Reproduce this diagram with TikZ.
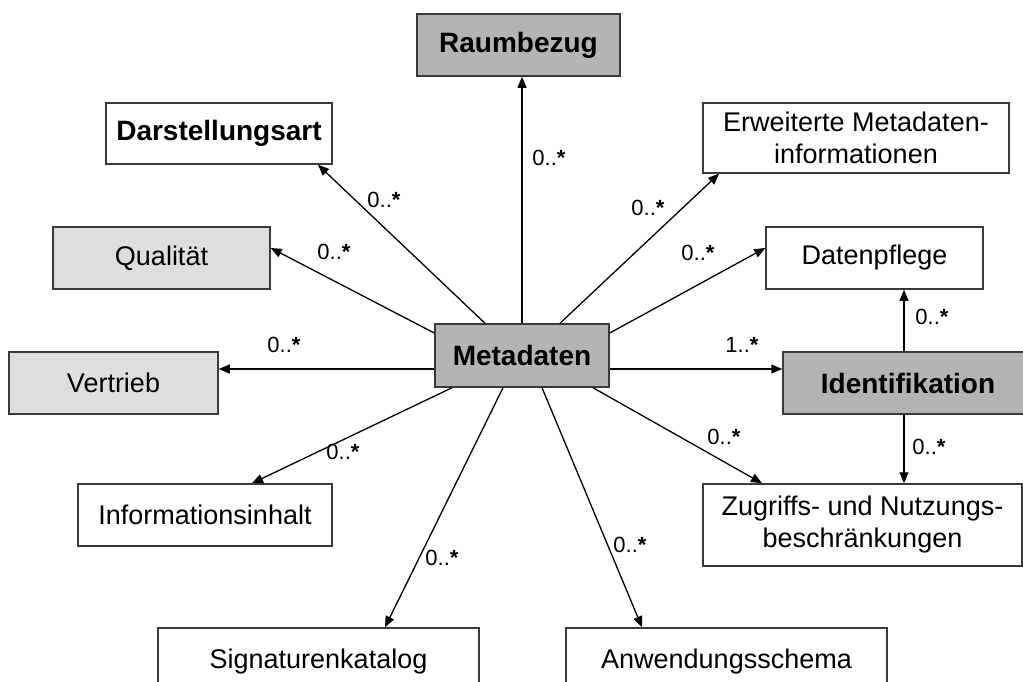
\documentclass[tikz,border=0pt]{standalone}
\usepackage{fontspec}
\setmainfont{Liberation Sans}
\usetikzlibrary{arrows.meta}
\definecolor{darkfill}{HTML}{B4B4B4}
\definecolor{lightfill}{HTML}{DEDEDE}
\definecolor{boxline}{HTML}{3A3A3A}
\begin{document}
\begin{tikzpicture}[x=1pt, y=-1pt,
  box/.style={draw=boxline, line width=1.5pt, align=center, inner sep=0pt, minimum height=62pt, font=\fontsize{27}{32}\selectfont},
  mainbox/.style={box, fill=darkfill, font=\fontsize{28}{32}\selectfont\bfseries},
  mult/.style={inner sep=0pt, font=\fontsize{22}{24}\selectfont},
  link/.style={-{Triangle[length=11pt,width=9pt]}, line width=1.3pt}]
\useasboundingbox (0,0) rectangle (1023,681);
% boxes
\node[mainbox, minimum width=203pt] (raum) at (518.5,45) {Raumbezug};
\node[box, font=\fontsize{28}{32}\selectfont\bfseries, minimum width=226pt, minimum height=61pt] (dars) at (219,133.5) {Darstellungsart};
\node[box, minimum width=306pt, minimum height=70pt] (erw) at (856,138) {Erweiterte Metadaten-\\informationen};
\node[box, fill=lightfill, minimum width=217pt] (qual) at (161.5,258) {Qualität};
\node[box, minimum width=217pt] (pflege) at (874.5,258) {Datenpflege};
\node[box, fill=lightfill, minimum width=209pt] (vert) at (113.5,383) {Vertrieb};
\node[mainbox, minimum width=174pt, minimum height=63pt] (meta) at (522,355.5) {Metadaten};
\node[mainbox, minimum width=250pt] (ident) at (908,383) {Identifikation};
\node[box, minimum width=254pt] (info) at (205,515) {Informationsinhalt};
\node[box, minimum width=319pt, minimum height=82pt] (zug) at (862.5,525) {Zugriffs- und Nutzungs-\\beschränkungen};
\node[box, minimum width=321pt, minimum height=68pt] (sig) at (318.5,662) {Signaturenkatalog};
\node[box, minimum width=321pt, minimum height=68pt] (anw) at (726.5,662) {Anwendungsschema};
% connectors
\draw[link] (meta.north) -- (meta.north |- raum.south);
\draw[link] ([xshift=-37pt]meta.north) -- ([xshift=99pt]dars.south);
\draw[link] ([xshift=38pt]meta.north) -- ([xshift=-137pt]erw.south);
\draw[link] ([yshift=22.5pt]meta.west) -- ([yshift=10pt]qual.east);
\draw[link] ([yshift=22.5pt]meta.east) -- ([yshift=10pt]pflege.west);
\draw[link] ([yshift=-13.5pt]meta.west) -- ([yshift=14pt]vert.east);
\draw[link] ([yshift=-13.5pt]meta.east) -- ([yshift=14pt]ident.west);
\draw[link] ([xshift=-70pt]meta.south) -- ([xshift=47pt]info.north);
\draw[link] ([xshift=-19pt]meta.south) -- ([xshift=66.5pt]sig.north);
\draw[link] ([xshift=20pt]meta.south) -- ([xshift=-84.5pt]anw.north);
\draw[link] ([xshift=71pt]meta.south) -- ([xshift=-100.5pt]zug.north);
\draw[link] ([xshift=-4pt]ident.north) -- ([xshift=29.5pt]pflege.south);
\draw[link] ([xshift=-4pt]ident.south) -- ([xshift=41.5pt]zug.north);
% multiplicities
\node[mult] (mraum) at (549,158) {0..\textbf{*}};
\node[mult] (mdars) at (384,200) {0..\textbf{*}};
\node[mult] (merw) at (648,208) {0..\textbf{*}};
\node[mult] (mqual) at (334,252) {0..\textbf{*}};
\node[mult] (mpflege) at (698,253) {0..\textbf{*}};
\node[mult] (mvert) at (284,345) {0..\textbf{*}};
\node[mult] (mident) at (742,345) {1..\textbf{*}};
\node[mult] (minfo) at (343,452) {0..\textbf{*}};
\node[mult] (msig) at (442,558) {0..\textbf{*}};
\node[mult] (manw) at (630,545) {0..\textbf{*}};
\node[mult] (mzug) at (724,437) {0..\textbf{*}};
\node[mult] (mpfl2) at (932,317) {0..\textbf{*}};
\node[mult] (mzug2) at (929,447) {0..\textbf{*}};
\end{tikzpicture}
\end{document}
